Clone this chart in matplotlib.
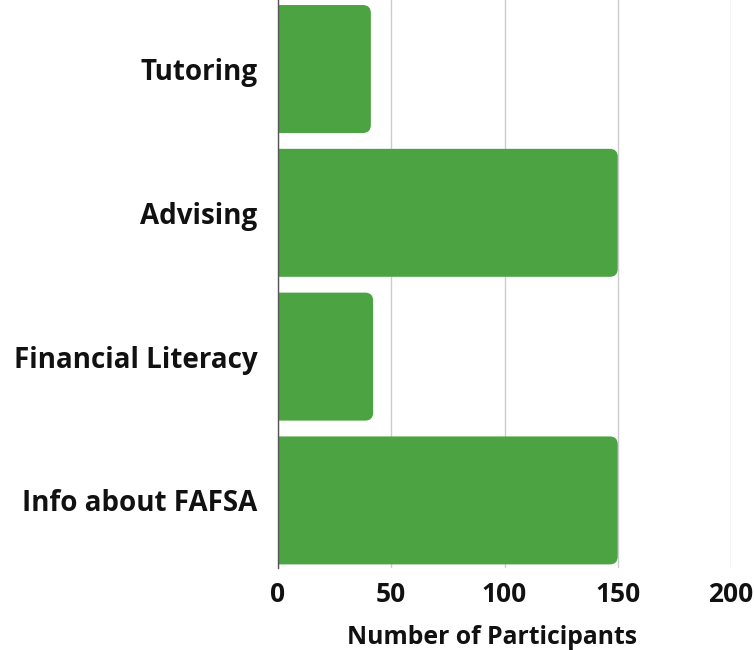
import matplotlib
matplotlib.use("Agg")
import matplotlib.pyplot as plt
from matplotlib.path import Path
from matplotlib.patches import PathPatch

categories = ["Tutoring", "Advising", "Financial Literacy", "Info about FAFSA"]
values = [41, 150, 42, 150]
xticks = [0, 50, 100, 150, 200]

plt.rcParams['font.family'] = ['Open Sans', 'DejaVu Sans']

fig = plt.figure(figsize=(7.54, 6.5), dpi=100)
ax = fig.add_axes([278/754, 1-568/650, (731-278)/754, 568/650])

color = "#4CA342"
bar_h = 0.89
ypos = list(range(len(categories)))
bars = ax.barh(ypos, values, height=bar_h, color="none", edgecolor="none")

ax.set_xlim(0, 200)
ax.set_ylim(3.47, -0.48)

# rounded right ends (radius ~8 px)
px_x = (200 - 0) / (731 - 278)
px_y = (3.47 + 0.48) / 568
rx, ry = 8 * px_x, 8 * px_y
for b in bars:
    x0, y0 = b.get_x(), b.get_y()
    w, h = b.get_width(), b.get_height()
    x1, y1 = x0 + w, y0 + h
    verts = [(x0, y0), (x1 - rx, y0), (x1, y0), (x1, y0 + ry),
             (x1, y1 - ry), (x1, y1), (x1 - rx, y1), (x0, y1), (x0, y0)]
    codes = [Path.MOVETO, Path.LINETO, Path.CURVE3, Path.CURVE3,
             Path.LINETO, Path.CURVE3, Path.CURVE3, Path.LINETO, Path.CLOSEPOLY]
    ax.add_patch(PathPatch(Path(verts, codes), facecolor=color, edgecolor="none", zorder=2))

ax.set_yticks(ypos)
ax.set_yticklabels(categories, fontsize=20, fontweight=700, color="#111111")
ax.set_xticks(xticks)
ax.set_xticklabels([str(t) for t in xticks], fontsize=19, fontweight=700, color="#111111")
ax.tick_params(axis="both", length=0)
ax.tick_params(axis="y", pad=15)
ax.tick_params(axis="x", pad=9)

ax.xaxis.grid(True, color="#cccccc", linewidth=1)
ax.set_axisbelow(True)
for s in ["top", "right", "bottom"]:
    ax.spines[s].set_visible(False)
ax.spines["left"].set_color("#555555")
ax.spines["left"].set_linewidth(1)
ax.spines["left"].set_zorder(3)

ax.set_xlabel("Number of Participants", fontsize=17.8, fontweight=700, color="#111111")
ax.xaxis.set_label_coords(0.472, -0.101)

fig.savefig("out.png", dpi=100)
